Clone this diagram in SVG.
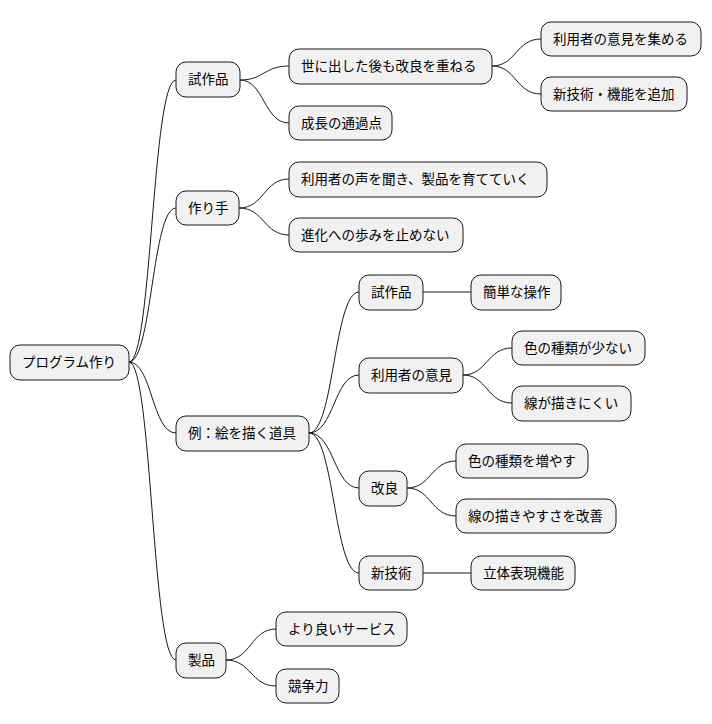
<svg xmlns="http://www.w3.org/2000/svg" width="712" height="724" viewBox="0 0 712 724">
<style>
.n rect{fill:#F1F1F1;stroke:#181818;stroke-width:1}
.n text{font-family:"Noto Sans CJK JP","Noto Sans",sans-serif;font-size:13.5px;fill:#000;dominant-baseline:central}
#c path{fill:none;stroke:#181818;stroke-width:1}
</style>
<rect width="712" height="724" fill="#fff"/>
<g id="c">
<path d="M129,362 C152,362 152,80 176,80"/>
<path d="M129,362 C152,362 152,208 176,208"/>
<path d="M129,362 C152,362 152,433 176,433"/>
<path d="M129,362 C152,362 152,660 176,660"/>
<path d="M240,80 C264,80 264,66 289,66"/>
<path d="M240,80 C264,80 264,123 289,123"/>
<path d="M492,66 C516,66 516,39 541,39"/>
<path d="M492,66 C516,66 516,94 541,94"/>
<path d="M239,208 C264,208 264,179 289,179"/>
<path d="M239,208 C264,208 264,235 289,235"/>
<path d="M309,433 C334,433 334,292 359,292"/>
<path d="M309,433 C334,433 334,375 359,375"/>
<path d="M309,433 C334,433 334,488 359,488"/>
<path d="M309,433 C334,433 334,573 359,573"/>
<path d="M423,292 L471,292"/>
<path d="M463,375 C487,375 487,348 512,348"/>
<path d="M463,375 C487,375 487,403 512,403"/>
<path d="M407,488 C431,488 431,461 456,461"/>
<path d="M407,488 C431,488 431,516 456,516"/>
<path d="M423,573 L471,573"/>
<path d="M226,660 C251,660 251,629 276,629"/>
<path d="M226,660 C251,660 251,686 276,686"/>
</g>
<g id="root" class="n"><rect x="10" y="345" width="119" height="35" rx="10"/><text x="22" y="361">プログラム作り</text></g>
<g id="n1" class="n"><rect x="176" y="62" width="64" height="35" rx="10"/><text x="188" y="78">試作品</text></g>
<g id="n1a" class="n"><rect x="289" y="49" width="203" height="35" rx="10"/><text x="301" y="65">世に出した後も改良を重ねる</text></g>
<g id="n1a1" class="n"><rect x="541" y="22" width="160" height="34" rx="10"/><text x="553" y="37.5">利用者の意見を集める</text></g>
<g id="n1a2" class="n"><rect x="541" y="77" width="146" height="34" rx="10"/><text x="553" y="92.5">新技術・機能を追加</text></g>
<g id="n1b" class="n"><rect x="289" y="106" width="103" height="34" rx="10"/><text x="301" y="121.5">成長の通過点</text></g>
<g id="n2" class="n"><rect x="176" y="191" width="63" height="34" rx="10"/><text x="188" y="206.5">作り手</text></g>
<g id="n2a" class="n"><rect x="289" y="162" width="258" height="35" rx="10"/><text x="301" y="178">利用者の声を聞き、製品を育てていく</text></g>
<g id="n2b" class="n"><rect x="289" y="218" width="174" height="34" rx="10"/><text x="301" y="233.5">進化への歩みを止めない</text></g>
<g id="n3" class="n"><rect x="176" y="416" width="133" height="35" rx="10"/><text x="188" y="432">例：絵を描く道具</text></g>
<g id="n3a" class="n"><rect x="359" y="275" width="64" height="35" rx="10"/><text x="371" y="291">試作品</text></g>
<g id="n3a1" class="n"><rect x="471" y="275" width="90" height="35" rx="10"/><text x="483" y="291">簡単な操作</text></g>
<g id="n3b" class="n"><rect x="359" y="358" width="104" height="35" rx="10"/><text x="371" y="374">利用者の意見</text></g>
<g id="n3b1" class="n"><rect x="512" y="331" width="133" height="34" rx="10"/><text x="524" y="346.5">色の種類が少ない</text></g>
<g id="n3b2" class="n"><rect x="512" y="386" width="119" height="35" rx="10"/><text x="524" y="402">線が描きにくい</text></g>
<g id="n3c" class="n"><rect x="359" y="471" width="48" height="35" rx="10"/><text x="371" y="487">改良</text></g>
<g id="n3c1" class="n"><rect x="456" y="444" width="132" height="34" rx="10"/><text x="468" y="459.5">色の種類を増やす</text></g>
<g id="n3c2" class="n"><rect x="456" y="499" width="160" height="34" rx="10"/><text x="468" y="514.5">線の描きやすさを改善</text></g>
<g id="n3d" class="n"><rect x="359" y="556" width="64" height="34" rx="10"/><text x="371" y="571.5">新技術</text></g>
<g id="n3d1" class="n"><rect x="471" y="556" width="104" height="34" rx="10"/><text x="483" y="571.5">立体表現機能</text></g>
<g id="n4" class="n"><rect x="176" y="643" width="50" height="35" rx="10"/><text x="188" y="659">製品</text></g>
<g id="n4a" class="n"><rect x="276" y="612" width="131" height="34" rx="10"/><text x="288" y="627.5">より良いサービス</text></g>
<g id="n4b" class="n"><rect x="276" y="669" width="63" height="34" rx="10"/><text x="288" y="684.5">競争力</text></g>
</svg>
